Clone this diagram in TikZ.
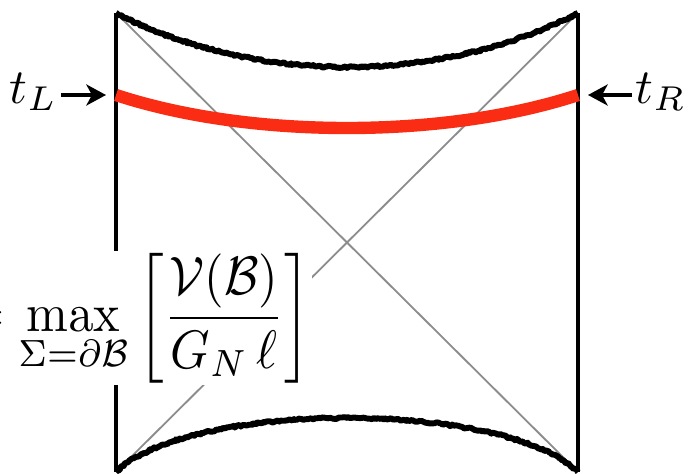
\documentclass[tikz,border=0pt]{standalone}
\usepackage{amsmath,amssymb}
\usetikzlibrary{arrows.meta,decorations.pathmorphing}
\definecolor{sliceRed}{RGB}{250,45,20}
\begin{document}
\begin{tikzpicture}[x=0.025cm, y=-0.025cm,
    bdy/.style={line width=2.8pt, black},
    lcone/.style={line width=1.3pt, black!45},
    sing/.style={line width=4.2pt, black, line join=round, decorate,
                 decoration={random steps, segment length=1.3pt, amplitude=0.75pt,
                 pre length=1pt, post length=1pt}},
    slice/.style={line width=8.8pt, sliceRed},
    arr/.style={-{Stealth[length=14pt, width=15pt, inset=4pt]}, line width=2.2pt},
    lbl/.style={scale=3.5, transform shape, inner sep=0.6pt}
]
\clip (0,0) rectangle (693,474);

\coordinate (TL) at (116,13);
\coordinate (TR) at (578,13);
\coordinate (BL) at (116,472);
\coordinate (BR) at (578,472);
\coordinate (L) at (116,95);
\coordinate (R) at (578,95);
\coordinate (Lin) at (106,95);
\coordinate (Rin) at (588,95);

\draw[lcone] (TL) -- (BR);
\draw[lcone] (TR) -- (BL);
\draw[bdy] (TL) -- (BL);
\draw[bdy] (TR) -- (BR);
\draw[sing] (TL) .. controls (255,85) and (439,85) .. (TR);
\draw[sing] (BL) .. controls (190,400) and (504,400) .. (BR);
\draw[slice] (L) .. controls (250,139) and (444,139) .. (R);

\node[lbl, xscale=1.02, yscale=1.1, fill=white, inner sep=0.3pt, anchor=west] (vol) at (-37,318)
  {$\displaystyle =\max_{\Sigma=\partial\mathcal{B}}\left[\frac{\mathcal{V}(\mathcal{B})}{G_N\,\ell}\right]$};

\node[lbl, anchor=base west] (tL) at (6,103) {$t_L$};
\node[lbl, anchor=base west] (tR) at (632,103) {$t_R$};
\draw[arr] (tL.east |- L) -- (Lin);
\draw[arr] (tR.west |- R) -- (Rin);
\end{tikzpicture}
\end{document}
